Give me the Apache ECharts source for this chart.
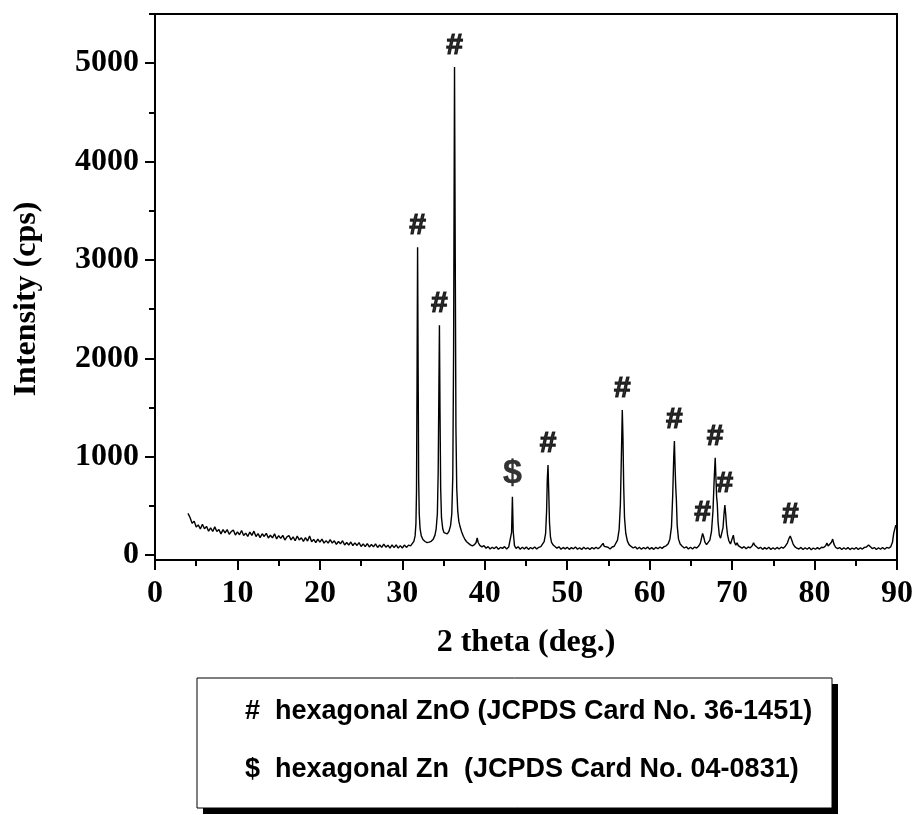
<!DOCTYPE html>
<html>
<head>
<meta charset="utf-8">
<script src="https://cdn.jsdelivr.net/npm/echarts@6/dist/echarts.min.js"></script>
<style>
  html, body { margin: 0; padding: 0; background: #fff; }
  #chart { width: 919px; height: 815px; }
</style>
</head>
<body>
<div id="chart"></div>
<script>
// Axis ticks
const xTicks = [0, 10, 20, 30, 40, 50, 60, 70, 80, 90];
const yTicks = [0, 1000, 2000, 3000, 4000, 5000];
const yMinorTicks = [500, 1500, 2500, 3500, 4500, 5500];

// XRD scan: [2θ (deg), intensity (cps)]
const scanLowAngle = [
  [4.00,424],[4.25,382],[4.50,324],[4.75,345],[5.00,285],[5.25,307],[5.50,265],[5.75,313],
  [6.00,267],[6.25,292],[6.50,243],[6.75,277],[7.00,240],[7.25,287],[7.50,240],[7.75,260],
  [8.00,216],[8.25,259],[8.50,225],[8.75,259],[9.00,212],[9.25,239],[9.50,255],[9.75,204],
  [10.00,236],[10.25,207],[10.50,250],[10.75,199],[11.00,223],[11.25,189],[11.50,234],[11.75,200],
  [12.00,243],[12.25,189],[12.50,218],[12.75,178],[13.00,217],[13.25,189],[13.50,221],[13.75,174],
  [14.00,202],[14.25,175],[14.50,217],[14.75,164],[15.00,198],[15.25,170],[15.50,200],[15.75,153],
  [16.00,185],[16.25,198],[16.50,155],[16.75,185],[17.00,146],[17.25,193],[17.50,154],[17.75,176],
  [18.00,140],[18.25,177],[18.50,142],[18.75,194],[19.00,135],[19.25,160],[19.50,126],[19.75,163],
  [20.00,132],[20.25,162],[20.50,121],[20.75,147],[21.00,121],[21.25,156],[21.50,122],[21.75,145],
  [22.00,108],[22.25,138],[22.50,115],[22.75,146],[23.00,103],[23.25,128],[23.50,102],[23.75,133],
  [24.00,97],[24.25,124],[24.50,98],[24.75,126],[25.00,87],[25.25,114],[25.50,86],[25.75,116],
  [26.00,83],[26.25,107],[26.50,84],[26.75,114],[27.00,77],[27.25,102],[27.50,78],[27.75,111],
  [28.00,80],[28.25,101],[28.50,71],[28.75,103],[29.00,75],[29.25,104],[29.50,71],[29.75,96],
  [30.00,72],[30.25,102],[30.50,78],[30.75,101],[31.00,94]
];

const scanZnOMain = [
  [31.20,112],[31.40,140],[31.55,195],[31.65,320],[31.72,650],[31.78,1700],[31.85,3130],
  [31.92,1850],[31.98,780],[32.05,420],[32.15,270],[32.30,195],[32.50,158],[32.75,138],
  [33.00,126],[33.25,132],[33.50,140],[33.75,162],[33.95,200],[34.10,265],[34.25,420],
  [34.35,850],[34.43,1650],[34.50,2337],[34.57,1450],[34.65,680],[34.75,380],[34.90,268],
  [35.05,228],[35.25,212],[35.45,216],[35.65,240],[35.85,300],[36.00,420],[36.12,800],
  [36.22,2100],[36.33,4962],[36.42,3000],[36.50,1300],[36.60,680],[36.72,450],[36.85,345],
  [37.00,290],[37.20,235],[37.40,192],[37.60,158],[37.80,136],[38.00,120],[38.25,104],
  [38.50,94],[38.75,106],[38.95,128],[39.08,175],[39.20,128],[39.40,98],[39.65,84],[39.90,96]
];

const scanMidAngle = [
  [40.15,70],[40.40,86],[40.65,62],[40.90,80],[41.15,66],[41.40,84],[41.65,60],[41.90,78],
  [42.15,68],[42.40,86],[42.65,62],[42.90,82],[43.10,94],[43.25,230],[43.35,593],[43.45,240],
  [43.60,96],[43.80,68],[44.05,84],[44.30,60],[44.55,79],[44.80,63],[45.05,82],[45.30,58],
  [45.55,77],[45.80,64],[46.05,83],[46.30,61],[46.55,79],[46.80,86],[47.00,102],[47.20,136],
  [47.38,220],[47.50,450],[47.58,760],[47.67,915],[47.76,640],[47.85,330],[47.97,182],
  [48.10,130],[48.30,102],[48.50,90],[48.75,70],[49.00,84],[49.25,60],[49.50,78],[49.75,63],
  [50.00,80],[50.25,58],[50.50,76],[50.75,64],[51.00,82],[51.25,59],[51.50,75],[51.75,57],
  [52.00,79],[52.25,62],[52.50,74],[52.75,56],[53.00,77],[53.25,63],[53.50,80],[53.75,64],
  [54.00,82],[54.20,92],[54.35,119],[54.50,88],[54.70,68],[54.95,80],[55.20,62],[55.45,82],
  [55.70,90],[55.90,110],[56.10,152],[56.30,262],[56.45,520],[56.58,1050],[56.68,1474],
  [56.76,1200],[56.85,700],[56.95,380],[57.10,222],[57.30,142],[57.50,106],[57.75,88],
  [58.00,72],[58.25,84],[58.50,62],[58.75,79],[59.00,60],[59.25,77],[59.50,64],[59.75,81],
  [60.00,60],[60.25,76],[60.50,58],[60.75,79],[61.00,64],[61.25,82],[61.50,68],[61.75,86]
];

const scanHighAngle = [
  [62.00,94],[62.25,116],[62.45,162],[62.65,290],[62.80,620],[62.92,1000],[63.00,1159],
  [63.08,900],[63.16,694],[63.24,560],[63.34,300],[63.50,162],[63.70,112],[63.95,90],
  [64.20,72],[64.45,84],[64.70,62],[64.95,79],[65.20,61],[65.45,81],[65.70,72],[65.95,92],
  [66.15,122],[66.30,176],[66.42,220],[66.55,186],[66.70,132],[66.90,106],[67.10,116],
  [67.30,152],[67.50,240],[67.68,450],[67.82,760],[67.95,989],[68.04,780],[68.12,593],
  [68.20,520],[68.30,330],[68.45,202],[68.60,172],[68.75,192],[68.90,280],[69.02,420],
  [69.12,508],[69.22,420],[69.32,300],[69.45,202],[69.60,146],[69.80,112],[70.00,122],
  [70.15,203],[70.28,132],[70.45,100],[70.60,126],[70.75,96],[70.95,80],[71.20,70],
  [71.45,86],[71.70,64],[71.95,82],[72.20,74],[72.45,96],[72.60,125],[72.75,100],[72.95,82],
  [73.20,66],[73.45,80],[73.70,58],[73.95,76],[74.20,61],[74.45,79],[74.70,56],[74.95,74],
  [75.20,59],[75.45,78],[75.70,62],[75.95,80],[76.20,70],[76.45,90],[76.70,122],[76.90,170],
  [77.05,193],[77.20,160],[77.40,112],[77.60,86],[77.85,70],[78.10,62],[78.35,78],[78.60,57],
  [78.85,74],[79.10,59],[79.35,77],[79.60,55],[79.85,72],[80.10,59],[80.35,76],[80.60,61],
  [80.85,80],[81.10,76],[81.35,96],[81.50,122],[81.65,92],[81.85,84],[82.05,130],[82.20,163],
  [82.35,112],[82.55,80],[82.80,66],[83.05,76],[83.30,57],[83.55,74],[83.80,59],[84.05,76],
  [84.30,56],[84.55,72],[84.80,60],[85.05,77],[85.30,57],[85.55,74],[85.80,61],[86.05,78],
  [86.30,82],[86.55,102],[86.75,86],[87.00,66],[87.25,76],[87.50,57],[87.75,74],[88.00,59],
  [88.25,77],[88.50,60],[88.75,78],[89.00,70],[89.25,86],[89.45,130],[89.60,220],[89.85,305]
];

// Indexed reflections
const peakAngles  = [31.85, 34.50, 36.33, 43.35, 47.67, 56.68, 63.00, 66.42, 67.95, 69.12, 77.05];
const peakHeights = [3130, 2337, 4962, 593, 915, 1474, 1159, 220, 989, 508, 193];
const peakSymbols = ['#', '#', '#', '$', '#', '#', '#', '#', '#', '#', '#'];

// Phase key
const phaseNotes = [
  '#  hexagonal ZnO (JCPDS Card No. 36-1451)',
  '$  hexagonal Zn  (JCPDS Card No. 04-0831)'
];

const scan = [].concat(scanLowAngle, scanZnOMain, scanMidAngle, scanHighAngle);
const peakMarks = peakAngles.map((a, i) => ({
  value: [a, peakHeights[i]],
  name: peakSymbols[i],
  label: peakSymbols[i] === '$' ? { fontSize: 34, textBorderWidth: 0.4 } : undefined
}));

const serif = "'Liberation Serif', 'Times New Roman', serif";
const sans = "'Liberation Sans', Arial, sans-serif";
const black = '#000';

const chart = echarts.init(document.getElementById('chart'), null, { renderer: 'canvas' });

chart.setOption({
  animation: false,
  backgroundColor: '#fff',
  grid: {
    left: 155, top: 14, width: 742, height: 546,
    show: true, borderColor: black, borderWidth: 2, backgroundColor: 'transparent'
  },
  xAxis: {
    type: 'value', min: 0, max: 90, interval: 10,
    axisLine: { onZero: false, lineStyle: { color: black, width: 2 } },
    axisTick: { show: true, inside: false, length: 10, lineStyle: { color: black, width: 2 } },
    minorTick: { show: true, splitNumber: 2, length: 6, lineStyle: { color: black, width: 2 } },
    axisLabel: {
      color: black, fontFamily: serif, fontWeight: 'bold', fontSize: 32, margin: 18,
      customValues: xTicks, formatter: (v) => String(v)
    },
    splitLine: { show: false },
    name: '2 theta (deg.)', nameLocation: 'middle', nameGap: 67,
    nameTextStyle: { color: black, fontFamily: serif, fontWeight: 'bold', fontSize: 32 }
  },
  yAxis: [
    {
      type: 'value', min: -50, max: 5500,
      axisLine: { show: true, onZero: false, lineStyle: { color: black, width: 2 } },
      axisTick: { show: true, inside: false, length: 10, customValues: yTicks,
                  lineStyle: { color: black, width: 2 } },
      axisLabel: { color: black, fontFamily: serif, fontWeight: 'bold', fontSize: 32, margin: 16,
                   customValues: yTicks, formatter: (v) => String(v) },
      splitLine: { show: false },
      name: 'Intensity (cps)', nameLocation: 'middle', nameGap: 112, nameRotate: 90,
      nameTextStyle: { color: black, fontFamily: serif, fontWeight: 'bold', fontSize: 32,
                       padding: [0, 24, 0, 0] }
    },
    {
      type: 'value', min: -50, max: 5500, position: 'left', offset: 0,
      axisLine: { show: false },
      axisTick: { show: true, inside: false, length: 6, customValues: yMinorTicks,
                  lineStyle: { color: black, width: 2 } },
      axisLabel: { show: false },
      splitLine: { show: false }
    }
  ],
  series: [
    {
      type: 'line', data: scan, showSymbol: false, symbol: 'none',
      lineStyle: { color: black, width: 1.4 }, z: 3
    },
    {
      type: 'scatter', data: peakMarks, symbolSize: 0.1,
      itemStyle: { color: 'transparent' },
      label: {
        show: true, position: 'top', distance: 6,
        formatter: (p) => p.name,
        color: black, fontFamily: sans, fontWeight: 'bold', fontSize: 30,
        textBorderColor: black, textBorderWidth: 1.2
      },
      z: 4
    }
  ],
  graphic: [
    { type: 'rect', shape: { x: 203, y: 684, width: 635, height: 130 },
      style: { fill: black } },
    { type: 'rect', shape: { x: 197, y: 678, width: 635, height: 130 },
      style: { fill: '#fff', stroke: black, lineWidth: 1 } },
    { type: 'text', x: 245, y: 712,
      style: { text: phaseNotes[0], fill: black, font: `bold 27px ${sans}`, verticalAlign: 'middle' } },
    { type: 'text', x: 245, y: 770,
      style: { text: phaseNotes[1], fill: black, font: `bold 27px ${sans}`, verticalAlign: 'middle' } }
  ]
});
</script>
</body>
</html>
